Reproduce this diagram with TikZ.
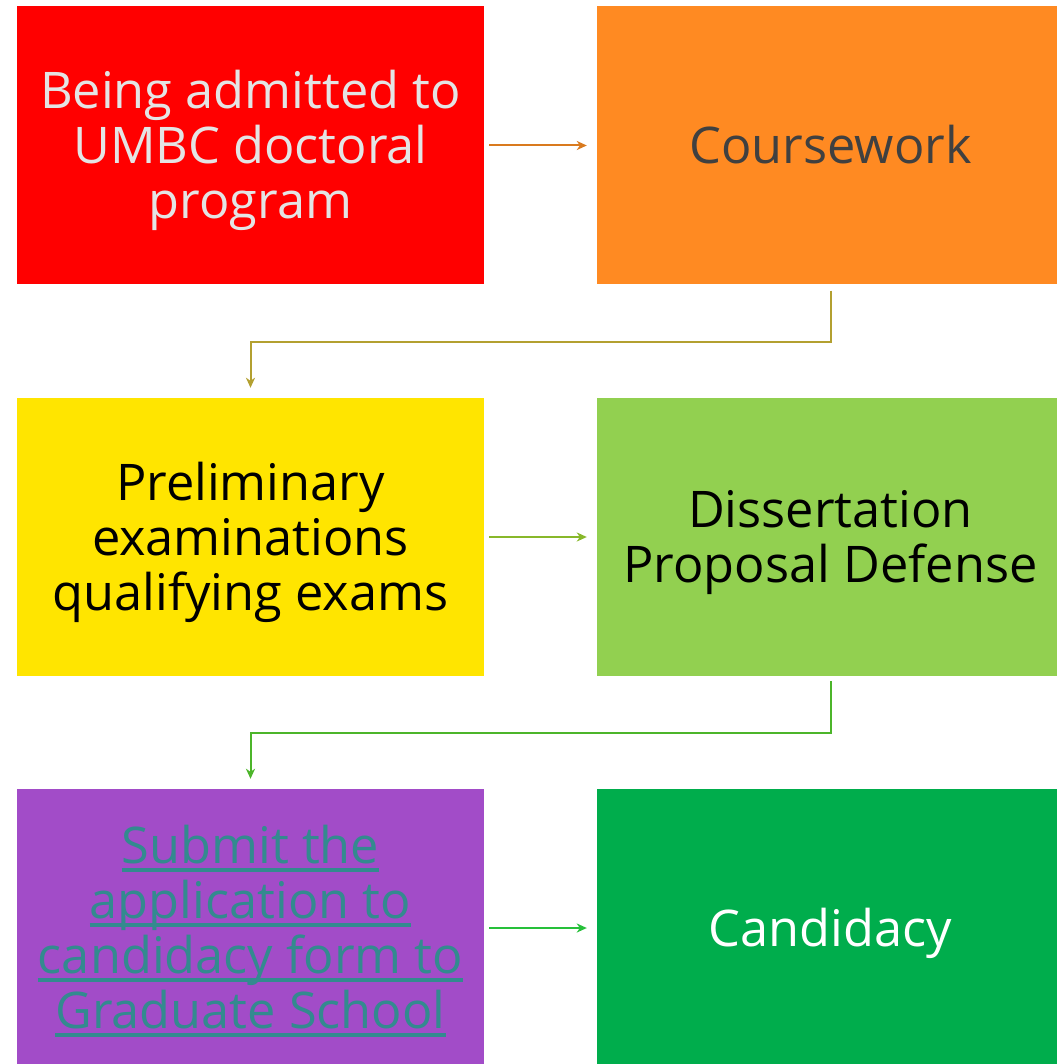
\documentclass[tikz,border=0pt]{standalone}
\usepackage{fontspec}
\setmainfont{Open Sans}
\usetikzlibrary{arrows.meta}
\definecolor{cRed}{HTML}{FF0000}
\definecolor{cOrange}{HTML}{FF8A22}
\definecolor{cYellow}{HTML}{FFE500}
\definecolor{cLime}{HTML}{92D050}
\definecolor{cPurple}{HTML}{A24CC8}
\definecolor{cGreen}{HTML}{00AD4C}
\definecolor{tLight}{HTML}{E4E4E4}
\definecolor{tDark}{HTML}{404040}
\definecolor{tTeal}{HTML}{338A8F}
\definecolor{aOrange}{HTML}{D97A1E}
\definecolor{aOlive}{HTML}{B3A030}
\definecolor{aLime}{HTML}{88B82A}
\definecolor{aGreen}{HTML}{4CB52A}
\definecolor{aBright}{HTML}{26C03A}
% link-style underline at a fixed depth below the baseline
\newsavebox{\linkbox}
\newcommand{\linkline}[1]{\sbox{\linkbox}{#1}\rlap{\rule[-8pt]{\wd\linkbox}{3.5pt}}\usebox{\linkbox}}
% centred lines stacked in a vbox (baseline = last line)
\newcommand{\stagelines}[1]{\vbox{\halign{\hfil##\hfil\cr#1\crcr}}}
\tikzset{
  x=1pt, y=1pt,
  stagebox/.style={rectangle, draw=none, minimum width=467pt, minimum height=278pt,
    inner sep=0pt, text depth=0pt,
    font=\fontsize{50.5}{55}\selectfont},
  lines/.style={text height={2*(18+27.5*(#1-1))}},
  flow/.style={line width=2pt, -{Stealth[length=10pt, width=9pt, inset=3pt]}},
}
\begin{document}
\begin{tikzpicture}
\useasboundingbox (0,0) rectangle (1056,-1064);
% stages
\node[stagebox, lines=3, fill=cRed, text=tLight] (adm) at (250.5,-145.5)
  {\stagelines{Being admitted to\cr UMBC doctoral\cr program}};
\node[stagebox, lines=1, fill=cOrange, text=tDark] (cw) at (830.5,-145.5)
  {\stagelines{Coursework}};
\node[stagebox, lines=3, fill=cYellow, text=black] (prelim) at (250.5,-537)
  {\stagelines{Preliminary\cr examinations\cr qualifying exams}};
\node[stagebox, lines=2, fill=cLime, text=black] (prop) at (830.5,-537)
  {\stagelines{Dissertation\cr Proposal Defense}};
\node[stagebox, lines=4, fill=cPurple, text=tTeal] (app) at (250.5,-928)
  {\stagelines{\linkline{Submit the}\cr\linkline{application to}\cr
   \linkline{candidacy form to}\cr\linkline{Graduate School}}};
\node[stagebox, lines=1, fill=cGreen, text=white] (cand) at (830.5,-928)
  {\stagelines{Candidacy}};
% connectors
\draw[flow, aOrange, shorten <=5pt, shorten >=10pt] (adm) -- (cw);
\draw[flow, aOlive, shorten <=6pt, shorten >=10pt] (cw.south) -- ++(0,-57) -| (prelim.north);
\draw[flow, aLime, shorten <=5pt, shorten >=10pt] (prelim) -- (prop);
\draw[flow, aGreen, shorten <=5pt, shorten >=10pt] (prop.south) -- ++(0,-57) -| (app.north);
\draw[flow, aBright, shorten <=5pt, shorten >=10pt] (app) -- (cand);
\end{tikzpicture}
\end{document}
